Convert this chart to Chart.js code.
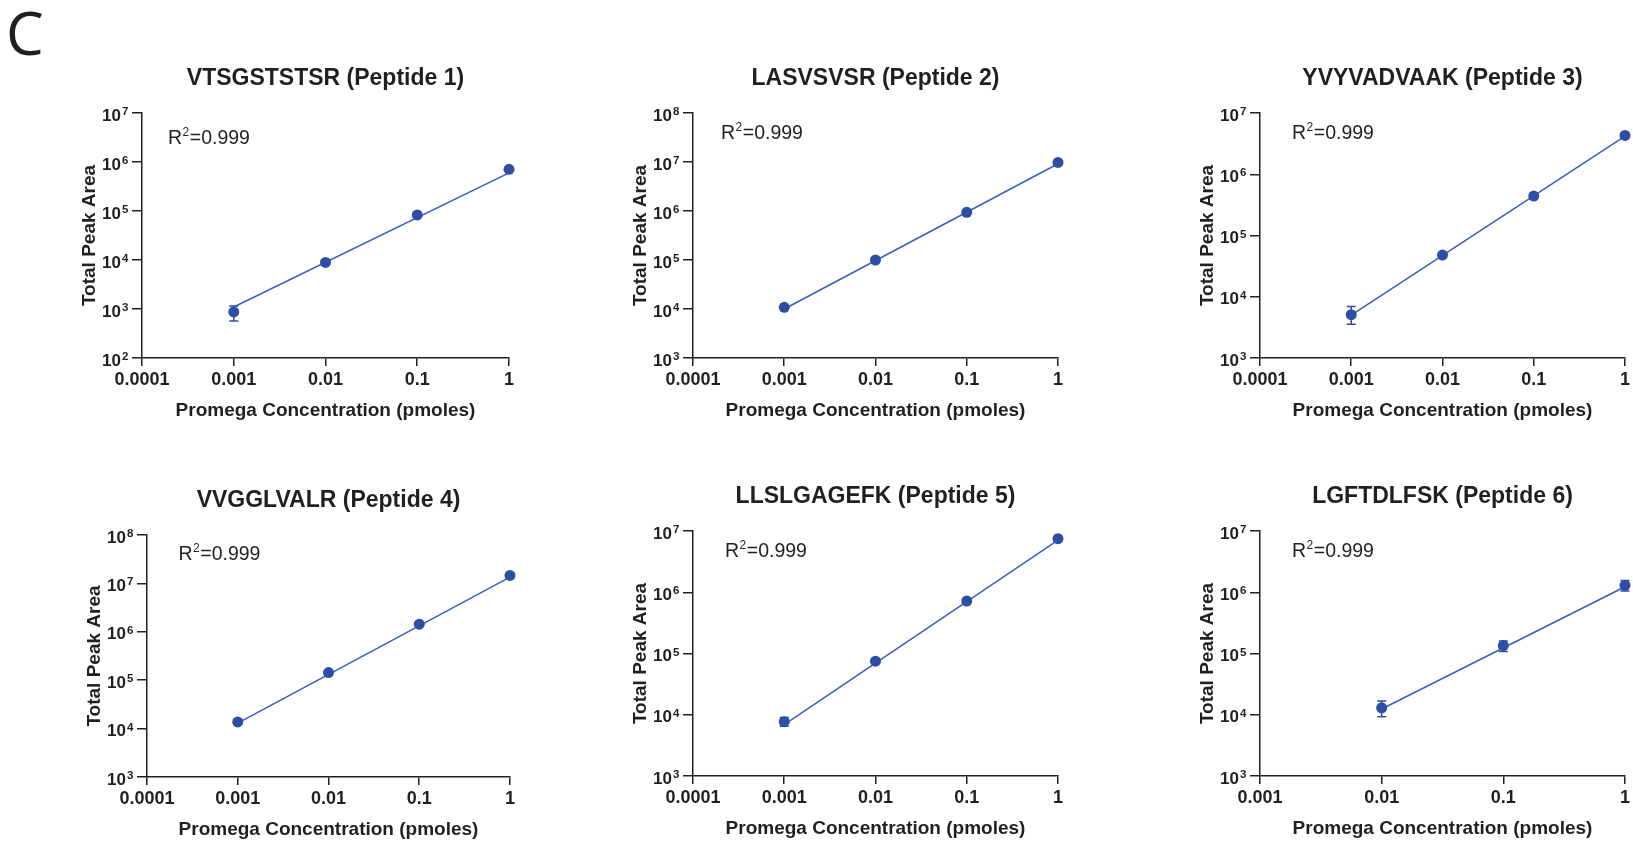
<!DOCTYPE html>
<html>
<head>
<meta charset="utf-8">
<script src="https://cdn.jsdelivr.net/npm/chart.js@4.4.1/dist/chart.umd.min.js"></script>
<style>
  html, body { margin: 0; padding: 0; background: #fff; overflow: hidden; }
  body { width: 1633px; height: 841px; position: relative; }
  canvas { position: absolute; }
  #panelLetter {
    position: absolute; left: 6px; top: 2px;
    font: 400 60px "Open Sans", sans-serif; line-height: 1; color: #231f20;
  }
</style>
</head>
<body>
<div id="panelLetter">C</div>

<script>
// ---- data ----
const panelTitles = [
  'VTSGSTSTSR (Peptide 1)', 'LASVSVSR (Peptide 2)', 'YVYVADVAAK (Peptide 3)',
  'VVGGLVALR (Peptide 4)', 'LLSLGAGEFK (Peptide 5)', 'LGFTDLFSK (Peptide 6)'
];
const xLabel = 'Promega Concentration (pmoles)';
const yLabel = 'Total Peak Area';
const r2Text = '0.999';

const conc = [0.001, 0.01, 0.1, 1];
const conc6 = [0.01, 0.1, 1];

const xTicks = [0.0001, 0.001, 0.01, 0.1, 1];
const xTickLabels = ['0.0001', '0.001', '0.01', '0.1', '1'];
const xTicks6 = [0.001, 0.01, 0.1, 1];
const xTickLabels6 = ['0.001', '0.01', '0.1', '1'];

// y axis range as powers of ten [min, max]
const yRanges = [[2, 7], [3, 8], [3, 7], [3, 8], [3, 7], [3, 7]];

const peak1 = [870, 8900, 83000, 710000];
const peak2 = [10800, 100000, 940000, 9800000];
const peak3 = [5100, 48000, 440000, 4300000];
const peak4 = [13700, 144000, 1440000, 14600000];
const peak5 = [7700, 75000, 720000, 7500000];
const peak6 = [13000, 135000, 1300000];

// error bars (low, high); null where hidden by the marker
const err1Lo = [570, null, null, null];
const err1Hi = [1150, null, null, null];
const err3Lo = [3550, null, null, null];
const err3Hi = [6900, null, null, null];
const err4Lo = [12200, null, null, null];
const err4Hi = [15400, null, null, null];
const err5Lo = [6500, null, null, null];
const err5Hi = [9000, null, null, null];
const err6Lo = [9300, 108000, 1050000];
const err6Hi = [16700, 160000, 1550000];

// linear fit (log-log), end points
const fit1 = [1100, 600000];
const fit2 = [10000, 9200000];
const fit3 = [5000, 4200000];
const fit4 = [13000, 13500000];
const fit5 = [6900, 7100000];
const fit6 = [12400, 1230000];

// ---- layout (plot area in page px) ----
const plotBoxes = [
  { l: 142, r: 510, t: 113, b: 358, rx: 26, ry: 31 },
  { l: 693, r: 1059, t: 113, b: 358, rx: 28, ry: 25.5 },
  { l: 1260, r: 1626, t: 113, b: 358, rx: 32, ry: 25.5 },
  { l: 147, r: 511, t: 535, b: 777, rx: 31.5, ry: 25 },
  { l: 693, r: 1059, t: 531, b: 776, rx: 32, ry: 25.5 },
  { l: 1260, r: 1626, t: 531, b: 776, rx: 32, ry: 25.5 }
];

const FONT = '"Liberation Sans", Arial, Helvetica, sans-serif';
const INK = '#231f20';
const MARK = '#2e4da4';
const LINE = '#3b5cbf';
const PAD_L = 140, PAD_T = 60, PAD_B = 70, PAD_R = 7;

const panelText = {
  id: 'panelText',
  beforeDatasetsDraw(chart, args, opts) {
    const ctx = chart.ctx;
    const xs = chart.scales.x, ys = chart.scales.y;
    ctx.save();
    ctx.strokeStyle = MARK;
    ctx.lineWidth = 1.5;
    opts.xs.forEach((xv, i) => {
      if (opts.lo[i] == null) return;
      const x = xs.getPixelForValue(xv);
      const y1 = ys.getPixelForValue(opts.lo[i]);
      const y2 = ys.getPixelForValue(opts.hi[i]);
      ctx.beginPath();
      ctx.moveTo(x, y1); ctx.lineTo(x, y2);
      ctx.moveTo(x - 4.5, y1); ctx.lineTo(x + 4.5, y1);
      ctx.moveTo(x - 4.5, y2); ctx.lineTo(x + 4.5, y2);
      ctx.stroke();
    });
    ctx.restore();
  },
  afterDraw(chart, args, opts) {
    const ctx = chart.ctx;
    const ca = chart.chartArea;
    const ys = chart.scales.y;
    const cx = (ca.left + ca.right) / 2;
    ctx.save();
    ctx.fillStyle = INK;
    ctx.textBaseline = 'alphabetic';

    // title
    ctx.font = `bold 23px ${FONT}`;
    ctx.textAlign = 'center';
    ctx.fillText(opts.title, cx, ca.top - 28);

    // x axis title
    ctx.font = `bold 19px ${FONT}`;
    ctx.fillText(xLabel, cx, ca.bottom + 58);

    // y axis title
    ctx.save();
    ctx.translate(ca.left - 47.5, (ca.top + ca.bottom) / 2);
    ctx.rotate(-Math.PI / 2);
    ctx.fillText(yLabel, 0, 0);
    ctx.restore();

    // y tick labels as 10^n
    ys.ticks.forEach(t => {
      const y = ys.getPixelForValue(t.value);
      const n = Math.round(Math.log10(t.value));
      ctx.font = `bold 17px ${FONT}`;
      ctx.textAlign = 'right';
      ctx.fillText('10', ca.left - 21, y + 7.5);
      ctx.font = `bold 11.5px ${FONT}`;
      ctx.textAlign = 'left';
      ctx.fillText(String(n), ca.left - 20, y + 2);
    });

    // R squared
    const rx = ca.left + opts.rx, ry = ca.top + opts.ry;
    ctx.textAlign = 'left';
    ctx.font = `19.5px ${FONT}`;
    ctx.fillText('R', rx, ry);
    const wR = ctx.measureText('R').width;
    ctx.font = `12px ${FONT}`;
    ctx.fillText('2', rx + wR + 0.5, ry - 8);
    const w2 = ctx.measureText('2').width;
    ctx.font = `19.5px ${FONT}`;
    ctx.fillText('=' + r2Text, rx + wR + w2 + 1, ry);
    ctx.restore();
  }
};

function makePanel(i, xsVals, ysVals, lo, hi, fit, ticks, tickLabels) {
  const box = plotBoxes[i];
  const canvas = document.createElement('canvas');
  const w = box.r - box.l + PAD_L + PAD_R;
  const h = box.b - box.t + PAD_T + PAD_B;
  canvas.width = w; canvas.height = h;
  canvas.style.left = (box.l - PAD_L) + 'px';
  canvas.style.top = (box.t - PAD_T) + 'px';
  canvas.style.width = w + 'px';
  canvas.style.height = h + 'px';
  document.body.appendChild(canvas);

  const points = xsVals.map((x, k) => ({ x: x, y: ysVals[k] }));
  const fitLine = [
    { x: xsVals[0], y: fit[0] },
    { x: xsVals[xsVals.length - 1], y: fit[1] }
  ];
  const yr = yRanges[i];
  const yTicks = [];
  for (let p = yr[0]; p <= yr[1]; p++) yTicks.push(Math.pow(10, p));

  return new Chart(canvas, {
    type: 'scatter',
    data: {
      datasets: [
        {
          data: points, order: 0, clip: false,
          pointRadius: 5.5, pointBackgroundColor: MARK, pointBorderColor: MARK,
          pointBorderWidth: 0, pointHoverRadius: 5.5
        },
        {
          data: fitLine, order: 1, clip: false, showLine: true,
          borderColor: LINE, borderWidth: 1.5, pointRadius: 0
        }
      ]
    },
    options: {
      responsive: false,
      animation: false,
      events: [],
      layout: { padding: { left: 0, right: PAD_R, top: PAD_T, bottom: 0 } },
      plugins: {
        legend: { display: false },
        tooltip: { enabled: false },
        panelText: {
          title: panelTitles[i], rx: box.rx, ry: box.ry,
          xs: xsVals, lo: lo, hi: hi
        }
      },
      scales: {
        x: {
          type: 'logarithmic',
          min: ticks[0], max: ticks[ticks.length - 1],
          afterBuildTicks: s => { s.ticks = ticks.map(v => ({ value: v })); },
          afterFit: s => { s.height = PAD_B; },
          ticks: {
            autoSkip: false, maxRotation: 0, padding: 3, color: INK,
            font: { family: FONT, size: 18, weight: 'bold' },
            callback: (v, idx) => tickLabels[idx]
          },
          grid: { drawOnChartArea: false, tickLength: 8, color: INK, lineWidth: 1.5 },
          border: { color: INK, width: 1.5 }
        },
        y: {
          type: 'logarithmic',
          min: yTicks[0], max: yTicks[yTicks.length - 1],
          afterBuildTicks: s => { s.ticks = yTicks.map(v => ({ value: v })); },
          afterFit: s => { s.width = PAD_L; },
          ticks: { display: false },
          grid: { drawOnChartArea: false, tickLength: 10, color: INK, lineWidth: 1.5 },
          border: { color: INK, width: 1.5 }
        }
      }
    },
    plugins: [panelText]
  });
}

makePanel(0, conc, peak1, err1Lo, err1Hi, fit1, xTicks, xTickLabels);
makePanel(1, conc, peak2, [null, null, null, null], [null, null, null, null], fit2, xTicks, xTickLabels);
makePanel(2, conc, peak3, err3Lo, err3Hi, fit3, xTicks, xTickLabels);
makePanel(3, conc, peak4, err4Lo, err4Hi, fit4, xTicks, xTickLabels);
makePanel(4, conc, peak5, err5Lo, err5Hi, fit5, xTicks, xTickLabels);
makePanel(5, conc6, peak6, err6Lo, err6Hi, fit6, xTicks6, xTickLabels6);
</script>
</body>
</html>
